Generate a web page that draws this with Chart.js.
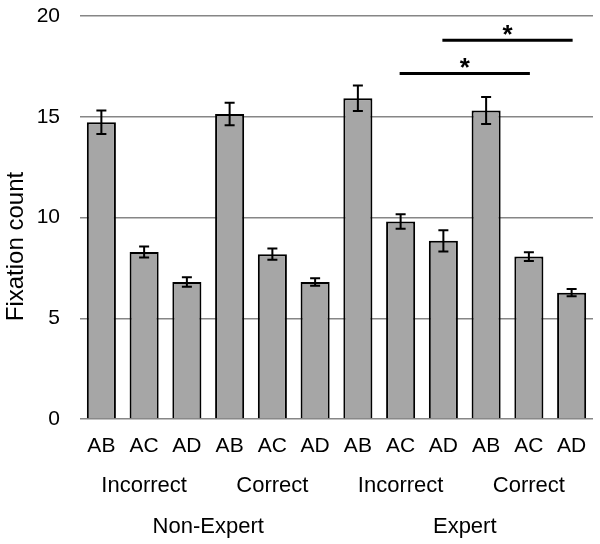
<!DOCTYPE html>
<html lang="en">
<head>
  <meta charset="UTF-8" />
  <title>Fixation count</title>
  <script src="https://cdn.jsdelivr.net/npm/chart.js"></script>
  <style>
    html, body { margin: 0; padding: 0; background: #fff; }
    #wrap { position: relative; width: 600px; height: 544px; }
  </style>
</head>
<body>
  <div id="wrap"><canvas id="fixChart"></canvas></div>

  <script>
    const pairs = ['AB', 'AC', 'AD', 'AB', 'AC', 'AD', 'AB', 'AC', 'AD', 'AB', 'AC', 'AD'];
    const answerGroups = ['Incorrect', 'Correct', 'Incorrect', 'Correct'];
    const expertGroups = ['Non-Expert', 'Expert'];
    const fixations = [14.73, 8.29, 6.80, 15.14, 8.18, 6.80, 15.92, 9.80, 8.84, 15.31, 8.06, 6.27];
    const fixErrors = [0.58, 0.27, 0.24, 0.56, 0.28, 0.19, 0.63, 0.36, 0.53, 0.67, 0.22, 0.18];
    // significance brackets: from bar, to bar, height
    const sigFrom = [7, 8];
    const sigTo = [10, 11];
    const sigLevel = [17.15, 18.8];
    const yTicks = [0, 5, 10, 15, 20];
    const yTitle = 'Fixation count';

    const font = 'Liberation Sans, Arial, sans-serif';

    const errorBars = {
      id: 'errorBars',
      afterDatasetsDraw(chart) {
        const ctx = chart.ctx;
        const y = chart.scales.y;
        const meta = chart.getDatasetMeta(0);
        ctx.save();
        ctx.strokeStyle = '#000';
        ctx.lineWidth = 2;
        meta.data.forEach((bar, i) => {
          const top = y.getPixelForValue(fixations[i] + fixErrors[i]);
          const bot = y.getPixelForValue(fixations[i] - fixErrors[i]);
          ctx.beginPath();
          ctx.moveTo(bar.x, top); ctx.lineTo(bar.x, bot);
          ctx.moveTo(bar.x - 5, top); ctx.lineTo(bar.x + 5, top);
          ctx.moveTo(bar.x - 5, bot); ctx.lineTo(bar.x + 5, bot);
          ctx.stroke();
        });
        ctx.restore();
      }
    };

    const sigMarks = {
      id: 'sigMarks',
      afterDatasetsDraw(chart) {
        const ctx = chart.ctx;
        const x = chart.scales.x, y = chart.scales.y;
        ctx.save();
        ctx.strokeStyle = '#000';
        ctx.fillStyle = '#000';
        ctx.lineWidth = 3;
        ctx.font = 'bold 26px ' + font;
        ctx.textAlign = 'center';
        ctx.textBaseline = 'alphabetic';
        sigFrom.forEach((f, i) => {
          const x1 = x.getPixelForValue(f) - 1;
          const x2 = x.getPixelForValue(sigTo[i]) + 1;
          const yy = y.getPixelForValue(sigLevel[i]);
          ctx.beginPath();
          ctx.moveTo(x1, yy); ctx.lineTo(x2, yy);
          ctx.stroke();
          ctx.fillText('*', (x1 + x2) / 2, yy + 3);
        });
        ctx.restore();
      }
    };

    // group labels under the ticks, and the y title (sits low, like the original)
    const extraLabels = {
      id: 'extraLabels',
      afterDraw(chart) {
        const ctx = chart.ctx;
        const x = chart.scales.x;
        const area = chart.chartArea;
        ctx.save();
        ctx.fillStyle = '#000';
        ctx.font = '22px ' + font;
        ctx.textAlign = 'center';
        ctx.textBaseline = 'middle';
        answerGroups.forEach((g, i) => {
          const cx = (x.getPixelForValue(i * 3) + x.getPixelForValue(i * 3 + 2)) / 2;
          ctx.fillText(g, cx, area.bottom + 67);
        });
        expertGroups.forEach((g, i) => {
          const cx = (x.getPixelForValue(i * 6) + x.getPixelForValue(i * 6 + 5)) / 2;
          ctx.fillText(g, cx, area.bottom + 108);
        });
        ctx.font = '24px ' + font;
        ctx.translate(16, area.top + (area.bottom - area.top) * 0.572);
        ctx.rotate(-Math.PI / 2);
        ctx.fillText(yTitle, 0, 0);
        ctx.restore();
      }
    };

    new Chart(document.getElementById('fixChart'), {
      type: 'bar',
      data: {
        labels: pairs,
        datasets: [{
          data: fixations,
          backgroundColor: '#a6a6a6',
          borderColor: '#000',
          borderWidth: 2,
          barPercentage: 0.68,
          categoryPercentage: 1
        }]
      },
      options: {
        responsive: true,
        maintainAspectRatio: false,
        animation: false,
        layout: { padding: { top: 16, right: 7, left: 0, bottom: 0 } },
        plugins: { legend: { display: false }, tooltip: { enabled: false } },
        scales: {
          x: {
            grid: { display: false },
            border: { display: false },
            ticks: { color: '#000', font: { family: font, size: 21 }, padding: 7, maxRotation: 0, autoSkip: false },
            afterFit(scale) { scale.height = 125; }
          },
          y: {
            min: 0,
            max: 20,
            afterBuildTicks(scale) { scale.ticks = yTicks.map(v => ({ value: v })); },
            grid: { color: '#868686', lineWidth: 1.5, drawTicks: false },
            border: { display: false },
            ticks: { color: '#000', font: { family: font, size: 21 }, padding: 20 },
            afterFit(scale) { scale.width = 80; scale.paddingTop = 0; scale.paddingBottom = 0; }
          }
        }
      },
      plugins: [errorBars, sigMarks, extraLabels]
    });
  </script>
</body>
</html>
